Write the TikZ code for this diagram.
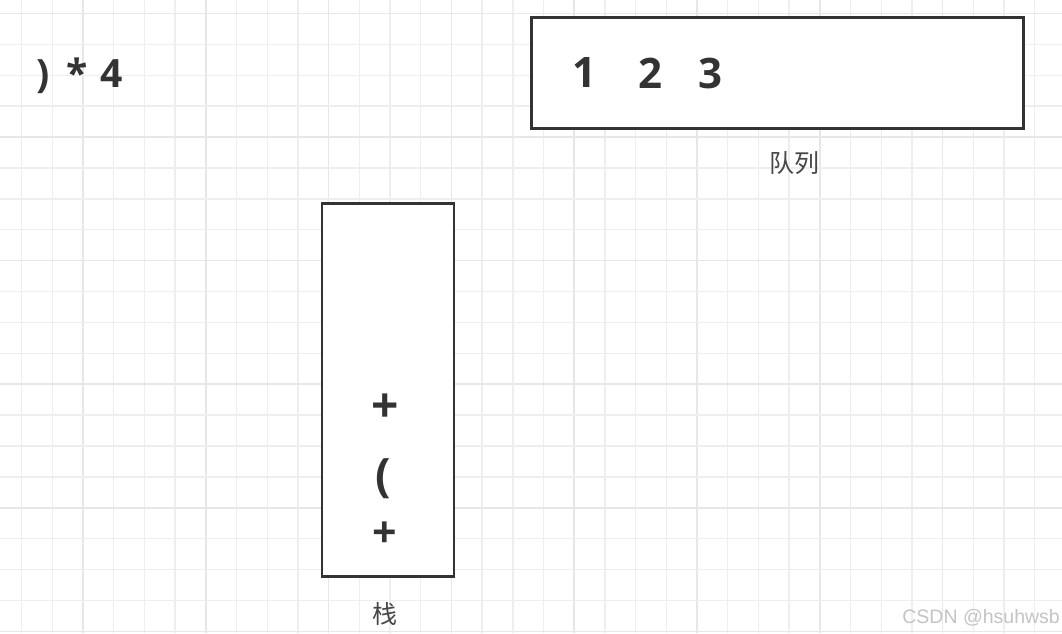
\documentclass[tikz,border=0pt]{standalone}
\usepackage{fontspec}
\setmainfont{Open Sans}
\newfontfamily\cjk{Noto Sans CJK SC}
\newfontfamily\wmfont{Liberation Sans}
\definecolor{gridminor}{HTML}{EEEEEE}
\definecolor{gridmajor}{HTML}{E7E7E7}
\definecolor{ink}{HTML}{333333}
\definecolor{wm}{HTML}{C4C4C4}
\begin{document}
\begin{tikzpicture}[x=1pt,y=-1pt,
  box/.style={draw=ink,line width=2.8pt,fill=white,inner sep=0pt},
  sym/.style={text=ink,font=\bfseries\fontsize{42}{48}\selectfont,inner sep=0pt},
  lab/.style={text=ink!90,font=\cjk\fontsize{25}{30}\selectfont,inner sep=0pt}]
\useasboundingbox (0,0) rectangle (1062,633);
\fill[white] (0,0) rectangle (1062,633);
% grid
\foreach \i in {0,...,34}{
  \pgfmathsetmacro{\xx}{21.6+30.7*\i}
  \pgfmathtruncatemacro{\mj}{mod(\i+2,4)==0}
  \ifnum\mj=1
    \draw[gridmajor,line width=1.6pt] (\xx,0) -- (\xx,633);
  \else
    \draw[gridminor,line width=1.4pt] (\xx,0) -- (\xx,633);
  \fi
}
\foreach \j in {0,...,20}{
  \pgfmathsetmacro{\yy}{13.4+30.9*\j}
  \pgfmathtruncatemacro{\mj}{mod(\j,4)==0}
  \ifnum\mj=1
    \draw[gridmajor,line width=1.6pt] (0,\yy) -- (1062,\yy);
  \else
    \draw[gridminor,line width=1.4pt] (0,\yy) -- (1062,\yy);
  \fi
}
% queue
\node[box,minimum width=492pt,minimum height=111pt] (queue) at (777.85,72.8) {};
\node[sym] (q1) at (584,73) {1};
\node[sym] (q2) at (650,73) {2};
\node[sym] (q3) at (710,73) {3};
\node[lab] (qlab) at (794,163) {队列};
% expression
\node[sym,font=\bfseries\fontsize{39}{44}\selectfont,anchor=west] (expr) at (36,76) {)\hspace{17pt}*\hspace{13pt}4};
% stack
\node[box,minimum width=132pt,minimum height=373pt] (stack) at (388,390.3) {};
\node[sym,font=\bfseries\fontsize{48}{52}\selectfont] (s1) at (385,408) {+};
\node[sym,font=\bfseries\fontsize{46}{52}\selectfont] (s2) at (383,479) {(};
\node[sym,font=\bfseries\fontsize{43}{48}\selectfont] (s3) at (385,535) {+};
\node[lab] (slab) at (385,614) {栈};
% watermark
\node[text=wm,font=\wmfont\fontsize{19.5}{22}\selectfont,anchor=east,inner sep=0pt] (wmark) at (1060,618) {CSDN @hsuhwsb};
\end{tikzpicture}
\end{document}
